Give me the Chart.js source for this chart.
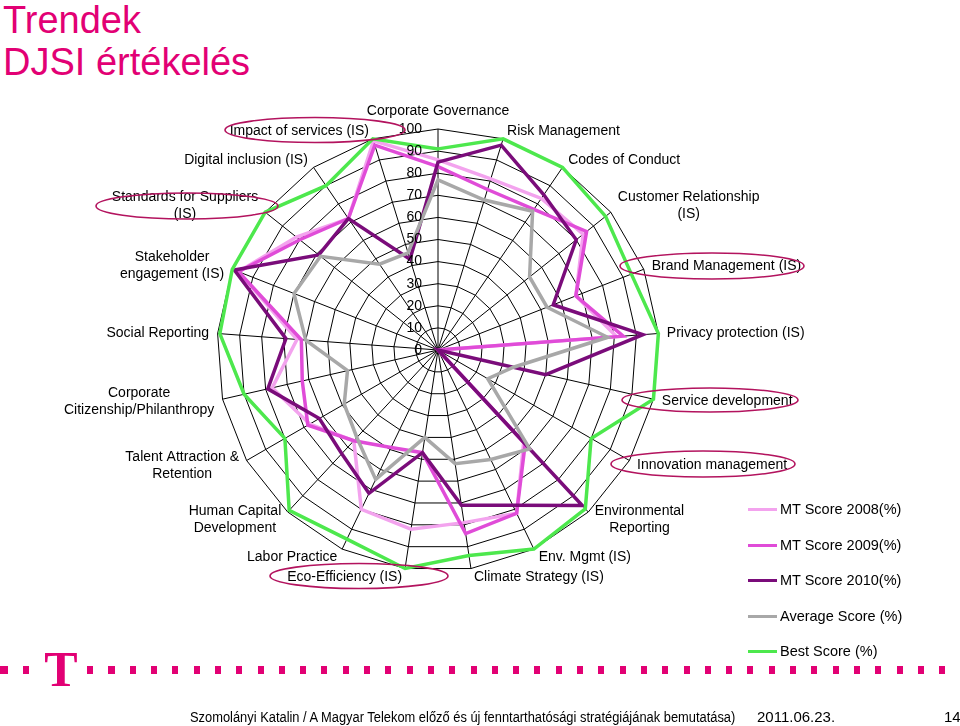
<!DOCTYPE html>
<html>
<head>
<meta charset="utf-8">
<script src="https://cdn.jsdelivr.net/npm/chart.js@4.4.1/dist/chart.umd.min.js"></script>
<style>
  html, body { margin: 0; padding: 0; width: 960px; height: 726px; overflow: hidden; background: #fff; font-family: "Liberation Sans", Arial, sans-serif; }
  #title { position: absolute; left: 3px; top: -1px; color: #E20074; font-size: 38px; line-height: 42px; }
  #wrap { position: absolute; left: 0; top: 0; width: 960px; height: 726px; }
  #legend { position: absolute; left: 748px; top: 498px; margin: 0; padding: 0; list-style: none; }
  #legend li { height: 35.5px; display: flex; align-items: flex-start; font-size: 14.5px; line-height: 22px; color: #000; }
  #legend span.swatch { display: inline-block; width: 29px; height: 3px; margin-top: 10px; margin-right: 3px; }
  #dots { position: absolute; left: 0; top: 666px; width: 960px; height: 8px;
          background: repeating-linear-gradient(90deg, #E20074 0 6px, transparent 6px 21.3px); background-position: 2px 0; }
  #logo { position: absolute; left: 40px; top: 646px; width: 42px; height: 46px; background: #fff; color: #E20074;
          font-family: "Liberation Serif", serif; font-weight: bold; font-size: 50px; line-height: 46px; text-align: center; }
  .foot { position: absolute; top: 709px; font-size: 14px; color: #000; white-space: nowrap; transform-origin: 0 0; }
  svg#marks { position: absolute; left: 0; top: 0; width: 960px; height: 726px; pointer-events: none; }
</style>
</head>
<body>
<div id="title">Trendek<br>DJSI értékelés</div>
<div id="wrap"><canvas id="radar"></canvas></div>
<svg id="marks" xmlns="http://www.w3.org/2000/svg">
  <g fill="none" stroke="#B3135E" stroke-width="1.6">
    <ellipse cx="315" cy="130" rx="90" ry="12.5"/>
    <ellipse cx="187" cy="206" rx="91" ry="13"/>
    <ellipse cx="712" cy="266" rx="92" ry="13"/>
    <ellipse cx="710" cy="400" rx="88" ry="12"/>
    <ellipse cx="703" cy="464" rx="92" ry="13"/>
    <ellipse cx="359" cy="576" rx="89" ry="12.5"/>
  </g>
</svg>
<ul id="legend"></ul>
<div id="dots"></div>
<div id="logo">T</div>
<div class="foot" style="left:190px; transform: scaleX(0.92)">Szomolányi Katalin / A Magyar Telekom előző és új fenntarthatósági stratégiájának bemutatása)</div>
<div class="foot" style="left:757px; font-size:15px; top:708px">2011.06.23.</div>
<div class="foot" style="left:944px; font-size:15px; top:708px">14</div>
<script>
// categories, clockwise from the top
var categories = [
  'Corporate Governance',
  'Risk Management',
  'Codes of Conduct',
  ['Customer Relationship', '(IS)'],
  'Brand Management (IS)',
  'Privacy protection (IS)',
  'Service development',
  'Innovation management',
  ['Environmental', 'Reporting'],
  'Env. Mgmt (IS)',
  'Climate Strategy (IS)',
  'Eco-Efficiency (IS)',
  'Labor Practice',
  ['Human Capital', 'Development'],
  ['Talent Attraction &', 'Retention'],
  ['Corporate', 'Citizenship/Philanthropy'],
  'Social Reporting',
  ['Stakeholder', 'engagement (IS)'],
  ['Standards for Suppliers', '(IS)'],
  'Digital inclusion (IS)',
  'Impact of services (IS)'
];

var tickValues = [0, 10, 20, 30, 40, 50, 60, 70, 80, 90, 100];

var score2008 = [86, 81, 83, 84, 67, 81, 0, 0, 57, 82, 79, 82, 80, 56, 67, 77, 64, 97, 82, 72, 99];
var score2009 = [83, 76, 77, 86, 67, 84, 0, 0, 58, 82, 84, 47, 49, 56, 68, 63, 62, 97, 80, 72, 97];
var score2010 = [85, 97, 85, 80, 56, 93, 50, 0, 96, 78, 71, 47, 72, 64, 62, 79, 69, 99, 69, 72, 43];
var averageScore = [77, 71, 76, 53, 53, 77, 35, 26, 61, 55, 52, 40, 65, 54, 49, 42, 60, 70, 68, 47, 46];
var bestScore = [91, 100, 100, 97, 94, 100, 100, 80, 98, 100, 94, 100, 95, 99, 80, 90, 99, 100, 100, 90, 100];

function line(label, data, color, order) {
  return {
    label: label,
    data: data,
    borderColor: color,
    backgroundColor: color,
    borderWidth: 3.5,
    pointRadius: 0,
    fill: false,
    order: order
  };
}

// tick numbers sit left of the vertical axis, as in the original
var tickLabels = {
  id: 'tickLabels',
  afterDraw: function(chart) {
    var r = chart.scales.r;
    var ctx = chart.ctx;
    ctx.save();
    ctx.font = '14px "Liberation Sans", Arial, sans-serif';
    ctx.fillStyle = '#000';
    ctx.textAlign = 'right';
    ctx.textBaseline = 'middle';
    tickValues.forEach(function(v) {
      ctx.fillText(String(v), r.xCenter - 16, r.yCenter - r.getDistanceFromCenterForValue(v));
    });
    ctx.restore();
  }
};

// category labels placed the excel way: beside the spoke end, centred lines
var spokeLabels = {
  id: 'spokeLabels',
  afterDraw: function(chart) {
    var r = chart.scales.r;
    var ctx = chart.ctx;
    var lineH = 17;
    ctx.save();
    ctx.font = '14px "Liberation Sans", Arial, sans-serif';
    ctx.fillStyle = '#000';
    ctx.textAlign = 'center';
    ctx.textBaseline = 'middle';
    categories.forEach(function(label, i) {
      var lines = [].concat(label);
      var a = r.getIndexAngle(i);
      var s = Math.sin(a), c = Math.cos(a);
      var end = r.getPointPosition(i, r.drawingArea);
      var w = 0;
      lines.forEach(function(t) { w = Math.max(w, ctx.measureText(t).width); });
      var h = lines.length * lineH;
      var gx = 2 + 6.5 * Math.abs(s);
      var cx, cy;
      if (Math.abs(s) < 0.05) {
        cx = end.x;
        cy = end.y - 18;
      } else {
        cx = s > 0 ? end.x + gx + w / 2 : end.x - gx - w / 2;
        cy = end.y - c * (8.5 + 1.5 * (lines.length - 1));
      }
      lines.forEach(function(t, j) {
        ctx.fillText(t, cx, cy - h / 2 + lineH * (j + 0.5));
      });
    });
    ctx.restore();
  }
};

var chart = new Chart(document.getElementById('radar'), {
  type: 'radar',
  data: {
    labels: categories,
    datasets: [
      line('MT Score 2008(%)', score2008, '#F3A3EE', 5),
      line('MT Score 2009(%)', score2009, '#E04CD8', 4),
      line('MT Score 2010(%)', score2010, '#7A0C7A', 3),
      line('Average Score (%)', averageScore, '#A8A8A8', 2),
      line('Best Score (%)', bestScore, '#4DE84D', 1)
    ]
  },
  options: {
    responsive: true,
    maintainAspectRatio: false,
    animation: false,
    layout: { padding: { left: 217, right: 301, top: 129, bottom: 155 } },
    plugins: {
      legend: { display: false },
      tooltip: { enabled: false }
    },
    scales: {
      r: {
        min: 0,
        max: 100,
        ticks: { stepSize: 10, display: false },
        grid: { color: '#000', lineWidth: 1 },
        angleLines: { color: '#000', lineWidth: 1 },
        pointLabels: { display: false }
      }
    }
  },
  plugins: [tickLabels, spokeLabels]
});

// html legend built from the chart's datasets
var ul = document.getElementById('legend');
chart.data.datasets.forEach(function(ds) {
  var li = document.createElement('li');
  var sw = document.createElement('span');
  sw.className = 'swatch';
  sw.style.background = ds.borderColor;
  li.appendChild(sw);
  li.appendChild(document.createTextNode(ds.label));
  ul.appendChild(li);
});
</script>
</body>
</html>
